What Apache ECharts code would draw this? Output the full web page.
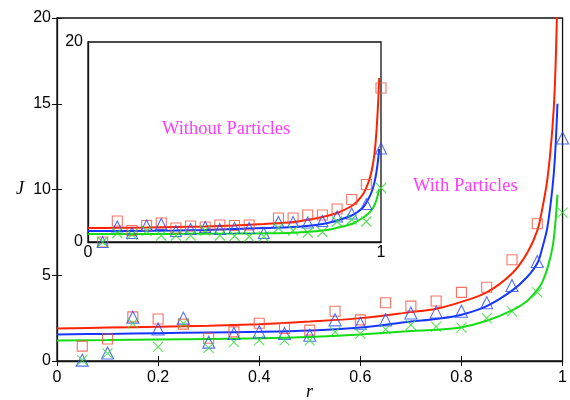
<!DOCTYPE html>
<html>
<head>
<meta charset="utf-8">
<script src="https://cdn.jsdelivr.net/npm/echarts@6/dist/echarts.min.js"></script>
<style>
  html, body { margin: 0; padding: 0; background: #fff; }
  #main { width: 570px; height: 400px; }
</style>
</head>
<body>
<div id="main"></div>
<script>
// main plot: measured points (with particles)
var rPts = [0.05, 0.1, 0.15, 0.2, 0.25, 0.3, 0.35, 0.4, 0.45, 0.5, 0.55, 0.6, 0.65, 0.7, 0.75, 0.8, 0.85, 0.9, 0.95, 1.0];
var redMain = [0.87, 1.28, 2.57, 2.45, 2.15, 1.33, 1.7, 2.2, 1.9, 1.8, 2.9, 2.4, 3.4, 3.2, 3.5, 4.0, 4.3, 5.9, 8.0, null];
var blueMain = [0.05, 0.47, 2.55, 1.87, 2.5, 1.1, 1.6, 1.7, 1.6, 1.5, 2.4, 2.2, 2.4, 2.8, 2.85, 2.9, 3.4, 4.4, 5.8, 13.0];
var greenMain = [0.05, 0.45, 2.2, 0.82, 2.2, 0.76, 1.1, 1.22, 1.2, 1.2, 1.7, 1.6, 1.85, 2.1, 2.0, 1.95, 2.5, 2.9, 4.0, 8.65];

// main plot: fitted curves
var rCurve = [0, 0.1, 0.2, 0.3, 0.4, 0.5, 0.6, 0.7, 0.75, 0.8, 0.85, 0.9, 0.93, 0.95, 0.96, 0.97, 0.98, 0.985, 0.99];
var redCurve = [1.9, 1.95, 2.0, 2.05, 2.15, 2.3, 2.5, 2.85, 3.05, 3.45, 4.0, 5.1, 6.3, 7.6, 8.9, 10.6, 13.6, 16.2, 21.5];
var blueCurve = [1.55, 1.58, 1.62, 1.66, 1.7, 1.78, 1.95, 2.3, 2.45, 2.7, 3.2, 4.1, 4.9, 5.7, 6.6, 7.8, 10.1, 11.9, 15.0];
var greenCurve = [1.2, 1.22, 1.25, 1.28, 1.32, 1.4, 1.55, 1.75, 1.82, 1.97, 2.35, 2.95, 3.5, 4.15, 4.6, 5.4, 6.6, 7.8, 9.7];

// inset: measured points (without particles)
var redIn = [0, 2.1, 1.15, 1.65, 1.9, 1.4, 1.6, 1.5, 1.7, 1.65, 1.7, null, 2.4, 2.4, 2.7, 2.7, 3.3, 4.25, 5.75, 15.4];
var blueIn = [0, 1.55, 0.9, 1.65, 1.8, 1.1, 1.3, 1.5, 1.3, 1.4, 1.4, 0.9, 2.0, 2.0, 1.95, 2.1, 2.55, 2.85, 3.8, 9.35];
var greenIn = [0, 0.9, 0.75, 1.1, 0.65, 0.65, 0.65, 1.15, 0.65, 0.6, 0.55, 0.55, 1.4, 1.15, 0.95, 1.0, 2.05, 2.25, 2.05, 5.4];

// inset: fitted curves
var rCurveIn = [0, 0.1, 0.2, 0.3, 0.4, 0.5, 0.6, 0.7, 0.8, 0.85, 0.9, 0.92, 0.94, 0.955, 0.968, 0.978, 0.985, 0.99, 0.994];
var redCurveIn = [1.4, 1.42, 1.45, 1.5, 1.55, 1.65, 1.8, 2.0, 2.5, 2.9, 3.6, 4.1, 4.85, 5.8, 7.1, 8.9, 11.3, 13.8, 16.4];
var blueCurveIn = [1.1, 1.1, 1.12, 1.15, 1.2, 1.3, 1.4, 1.5, 1.8, 2.15, 2.65, 3.0, 3.5, 4.2, 5.0, 6.0, 7.1, 8.2, 9.3];
var greenCurveIn = [0.8, 0.8, 0.8, 0.81, 0.82, 0.84, 0.87, 0.93, 1.15, 1.42, 1.8, 2.1, 2.45, 2.8, 3.2, 3.7, 4.25, 4.8, 5.3];

var xTicksMain = 0.2, yTicksMain = 5;

var RED = '#ff2200', BLUE = '#1636ff', GREEN = '#14dc14';
var RED_M = '#f5503c', BLUE_M = '#2a48ff', GREEN_M = '#2fdc2f';
var CROSS = 'path://M0,0L10,10M10,0L0,10';

function zip(xs, ys) {
  var out = [];
  for (var i = 0; i < xs.length; i++) {
    if (ys[i] != null) out.push([xs[i], ys[i]]);
  }
  return out;
}

function curve(xs, ys, color, gi) {
  return {
    type: 'line', xAxisIndex: gi, yAxisIndex: gi,
    data: zip(xs, ys), showSymbol: false, symbol: 'none',
    smooth: 0.35,
    lineStyle: { color: color, width: 2 }, z: 3
  };
}

function marks(ys, symbol, color, size, gi) {
  return {
    type: 'scatter', xAxisIndex: gi, yAxisIndex: gi,
    data: zip(rPts, ys), symbol: symbol, symbolSize: size,
    clip: false,
    itemStyle: { color: 'transparent', borderColor: color, borderWidth: 1.1 },
    z: 4
  };
}

var lab = { color: '#000', fontSize: 16, fontFamily: 'Liberation Sans' };
var chart = echarts.init(document.getElementById('main'));

var option = {
  animation: false,
  backgroundColor: '#fff',
  grid: [
    { left: 57, right: 7, top: 18, bottom: 39, show: true, borderColor: '#111', borderWidth: 1.3 },
    { left: 88, top: 42, width: 293, height: 200, show: true, backgroundColor: '#fff', borderColor: '#111', borderWidth: 1.3 }
  ],
  xAxis: [
    { type: 'value', gridIndex: 0, min: 0, max: 1, interval: xTicksMain,
      axisLine: { lineStyle: { color: '#111', width: 1.3 } },
      axisTick: { inside: true, length: 5, lineStyle: { color: '#111' } },
      axisLabel: Object.assign({ margin: 9 }, lab), splitLine: { show: false } },
    { type: 'value', gridIndex: 1, min: 0, max: 1, interval: 1,
      axisLine: { lineStyle: { color: '#111', width: 1.3 } },
      axisTick: { show: false },
      axisLabel: Object.assign({ margin: 3 }, lab), splitLine: { show: false } },
    { type: 'value', gridIndex: 0, position: 'top', min: 0, max: 1, interval: xTicksMain,
      axisLine: { show: false },
      axisTick: { inside: true, length: 5, lineStyle: { color: '#111' } },
      axisLabel: { show: false }, splitLine: { show: false } }
  ],
  yAxis: [
    { type: 'value', gridIndex: 0, min: 0, max: 20, interval: yTicksMain,
      axisLine: { show: true, lineStyle: { color: '#111', width: 1.3 } },
      axisTick: { show: true, inside: true, length: 5, lineStyle: { color: '#111' } },
      axisLabel: Object.assign({ margin: 6 }, lab), splitLine: { show: false } },
    { type: 'value', gridIndex: 1, min: 0, max: 20, interval: 20,
      axisLine: { show: true, lineStyle: { color: '#111', width: 1.3 } },
      axisTick: { show: false },
      axisLabel: Object.assign({ margin: 5 }, lab), splitLine: { show: false } },
    { type: 'value', gridIndex: 0, position: 'right', min: 0, max: 20, interval: yTicksMain,
      axisLine: { show: false },
      axisTick: { show: true, inside: true, length: 5, lineStyle: { color: '#111' } },
      axisLabel: { show: false }, splitLine: { show: false } }
  ],
  series: [
    curve(rCurve, redCurve, RED, 0),
    curve(rCurve, blueCurve, BLUE, 0),
    curve(rCurve, greenCurve, GREEN, 0),
    marks(redMain, 'rect', RED_M, 10, 0),
    marks(blueMain, 'triangle', BLUE_M, 12, 0),
    marks(greenMain, CROSS, GREEN_M, 10, 0),
    curve(rCurveIn, redCurveIn, RED, 1),
    curve(rCurveIn, blueCurveIn, BLUE, 1),
    curve(rCurveIn, greenCurveIn, GREEN, 1),
    marks(redIn, 'rect', RED_M, 10, 1),
    marks(blueIn, 'triangle', BLUE_M, 11, 1),
    marks(greenIn, CROSS, GREEN_M, 10, 1)
  ],
  graphic: [
    { type: 'text', left: 162, top: 120, z: 10,
      style: { text: 'Without Particles', fill: '#ff3cff', fontSize: 18.5, fontFamily: 'Liberation Serif' } },
    { type: 'text', left: 413, top: 177, z: 10,
      style: { text: 'With Particles', fill: '#ff3cff', fontSize: 18.5, fontFamily: 'Liberation Serif' } },
    { type: 'text', left: 16, top: 180, z: 10,
      style: { text: 'J', fill: '#000', fontSize: 18, fontStyle: 'italic', fontFamily: 'Liberation Serif' } },
    { type: 'text', left: 306, top: 383, z: 10,
      style: { text: 'r', fill: '#000', fontSize: 18, fontStyle: 'italic', fontFamily: 'Liberation Serif' } }
  ]
};

chart.setOption(option);
</script>
</body>
</html>
